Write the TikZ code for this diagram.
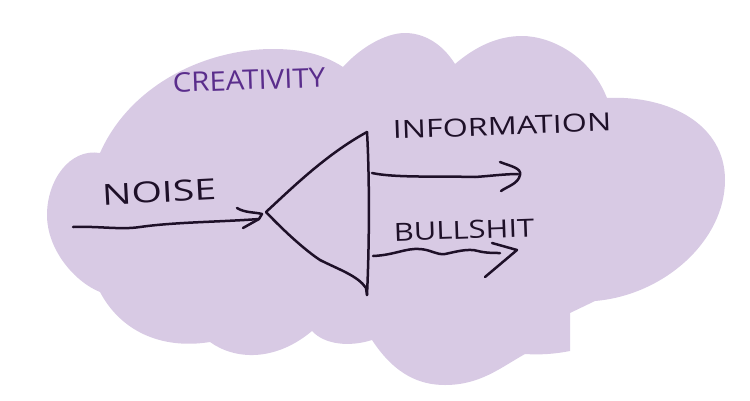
\documentclass[tikz,border=0pt]{standalone}
\usepackage{fontspec}
\setmainfont{Open Sans}
\definecolor{cloudfill}{HTML}{D8CAE4}
\definecolor{ink}{HTML}{1E1028}
\definecolor{purpleink}{HTML}{5A2D8C}
\tikzset{
  pen/.style={draw=ink,line width=2.5pt,line cap=round,line join=round},
  inklabel/.style={text=ink,inner sep=0pt,font=\fontsize{25}{25}\selectfont},
}
\begin{document}
\begin{tikzpicture}[x=1pt,y=-1pt]
\useasboundingbox (0,0) rectangle (750,400);
% cloud
\fill[cloudfill] (100,153) .. controls (70,148) and (47,180) .. (47,215) .. controls (47,250) and (75,282) .. (100,292)
 .. controls (120,330) and (160,350) .. (210,342)
 .. controls (235,360) and (275,362) .. (312,331)
 .. controls (325,345) and (350,347) .. (372,340)
 .. controls (395,375) and (420,385) .. (445,385) .. controls (480,385) and (500,368) .. (525,354)
 .. controls (540,355) and (555,354) .. (570,351)
 -- (570,313) -- (595,301)
 .. controls (665,295) and (725,240) .. (725,180) .. controls (725,125) and (670,95) .. (607,98)
 .. controls (590,55) and (550,36) .. (522,36) .. controls (497,36) and (475,47) .. (455,64)
 .. controls (440,40) and (420,33) .. (405,33) .. controls (385,33) and (360,48) .. (343,67)
 .. controls (320,52) and (295,49) .. (273,49) .. controls (205,49) and (130,85) .. (100,153)
 -- cycle;
% labels
\node[inklabel,text=purpleink,rotate=2,xscale=1.09,font=\fontsize{27}{27}\selectfont] (creativity) at (249,80) {CREATIVITY};
\node[inklabel,rotate=3,xscale=1.35,font=\fontsize{29}{29}\selectfont] (noise) at (159,192) {NOISE};
\node[inklabel,rotate=2,xscale=1.29] (information) at (502,126) {INFORMATION};
\node[inklabel,rotate=2,xscale=1.24] (bullshit) at (464,230) {BULLSHIT};
% named ends
\coordinate (apex) at (266,212);
\coordinate (top) at (367,132);
\coordinate (bottom) at (367,295);
\coordinate (instart) at (73,227);
\coordinate (inend) at (259,219);
\coordinate (infostart) at (372,173);
\coordinate (infoend) at (518,174);
\coordinate (bsstart) at (373,256);
\coordinate (bsend) at (517,250);
% triangle
\draw[pen] (apex) .. controls (290,190) and (325,155) .. (top);
\draw[pen] (apex) .. controls (285,232) and (305,250) .. (320,260) .. controls (340,270) and (358,276) .. (366,288) -- (bottom);
\draw[pen] (top) .. controls (369,165) and (370,230) .. (bottom);
% input arrow
\draw[pen] (instart) .. controls (100,226) and (120,230) .. (140,227) .. controls (175,222) and (220,222) .. (inend);
\draw[pen] (237,208) .. controls (245,213) and (255,212) .. (262,214) -- (inend) -- (243,228);
% information arrow
\draw[pen] (infostart) .. controls (395,178) and (440,176) .. (475,177) .. controls (490,176) and (505,174) .. (infoend);
\draw[pen] (500,162) .. controls (510,166) and (522,168) .. (520,175) .. controls (518,184) and (508,186) .. (501,191);
% bullshit arrow
\draw[pen] (bsstart) .. controls (395,255) and (405,248) .. (420,249) .. controls (432,250) and (436,255) .. (445,254) .. controls (455,252) and (468,248) .. (478,251) .. controls (485,253) and (495,253) .. (500,253);
\draw[pen] (492,243) -- (bsend) -- (485,277);
\end{tikzpicture}
\end{document}
